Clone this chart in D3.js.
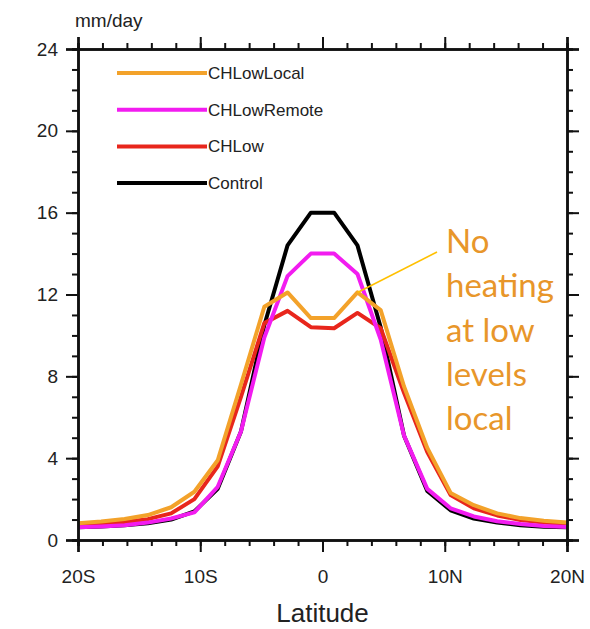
<!DOCTYPE html>
<html>
<head>
<meta charset="utf-8">
<script src="https://cdn.jsdelivr.net/npm/d3@7"></script>
<style>
  body { margin: 0; background: #fff; }
  text { font-family: "Liberation Sans", Arial, Helvetica, sans-serif; }
</style>
</head>
<body>
<div id="chart-area"></div>
<script>
// latitude grid (deg), south negative
const lats = [-20, -18.1, -16.19, -14.29, -12.38, -10.48, -8.57, -6.67, -4.76, -2.86, -0.95,
              0.95, 2.86, 4.76, 6.67, 8.57, 10.48, 12.38, 14.29, 16.19, 18.1, 20]

// precipitation, mm/day
const control      = [0.62, 0.66, 0.72, 0.82, 1.0, 1.4, 2.5, 5.3, 10.5, 14.4, 16.0,
                      16.0, 14.4, 10.4, 5.1, 2.4, 1.45, 1.05, 0.85, 0.72, 0.65, 0.62]
const chLow        = [0.72, 0.78, 0.88, 1.02, 1.3, 2.0, 3.6, 7.0, 10.6, 11.2, 10.4,
                      10.35, 11.1, 10.35, 7.2, 4.3, 2.2, 1.55, 1.2, 0.98, 0.85, 0.78]
const chLowRemote  = [0.62, 0.66, 0.72, 0.85, 1.05, 1.35, 2.6, 5.3, 9.9, 12.9, 14.0,
                      14.0, 13.0, 9.8, 5.1, 2.5, 1.55, 1.15, 0.92, 0.78, 0.68, 0.64]
const chLowLocal   = [0.82, 0.9, 1.03, 1.22, 1.6, 2.36, 3.9, 7.6, 11.4, 12.1, 10.85,
                      10.85, 12.1, 11.24, 7.5, 4.5, 2.3, 1.7, 1.3, 1.07, 0.94, 0.86]

const yTicks = [0, 4, 8, 12, 16, 20, 24]
const xTicks = [-20, -10, 0, 10, 20]
const xTickLabels = ["20S", "10S", "0", "10N", "20N"]
const legendNames = ["CHLowLocal", "CHLowRemote", "CHLow", "Control"]
const annotationLines = ["No", "heating", "at low", "levels", "local"]

function drawChart() {
    const svgWidth = 590
    const svgHeight = 629
    const margin = { left: 78, right: 23, top: 49, bottom: 89 }
    const chartWidth = svgWidth - margin.left - margin.right
    const chartHeight = svgHeight - margin.top - margin.bottom

    const series = [
        { name: "Control", values: control, color: "#000000" },
        { name: "CHLow", values: chLow, color: "#E8261C" },
        { name: "CHLowRemote", values: chLowRemote, color: "#F21CF0" },
        { name: "CHLowLocal", values: chLowLocal, color: "#F3A22A" }
    ]
    const colorOf = name => series.find(s => s.name == name).color

    const xScale = d3.scaleLinear()
        .domain([-20, 20])
        .range([0, chartWidth])

    const yScale = d3.scaleLinear()
        .domain([0, 24])
        .range([chartHeight, 0])

    const svg = d3.select("#chart-area")
        .append("svg")
        .attr("width", svgWidth)
        .attr("height", svgHeight)

    const chart = svg.append("g")
        .attr("transform", `translate(${margin.left},${margin.top})`)

    const lineGenerator = d3.line()
        .x((d, i) => xScale(lats[i]))
        .y(d => yScale(d))

    chart.selectAll(".series")
        .data(series)
        .join("path")
        .attr("class", "series")
        .attr("d", d => lineGenerator(d.values))
        .attr("fill", "none")
        .attr("stroke", d => d.color)
        .attr("stroke-width", 4)
        .attr("stroke-linejoin", "round")

    // axes: minor ticks first, then major ticks with labels
    const styleAxis = g => {
        g.select(".domain").attr("stroke-width", 2.5).attr("stroke", "#111")
        g.selectAll(".tick line").attr("stroke-width", 2).attr("stroke", "#111")
        g.selectAll("text").attr("fill", "#222").style("font-size", "19px")
    }
    const minorY = d3.range(0, 25, 1)
    const minorX = d3.range(-20, 21, 2)

    chart.append("g")
        .call(d3.axisLeft(yScale).tickValues(minorY).tickSize(6).tickFormat(""))
        .call(styleAxis)
    chart.append("g")
        .call(d3.axisLeft(yScale).tickValues(yTicks).tickSize(12).tickPadding(8))
        .call(styleAxis)

    chart.append("g")
        .attr("transform", `translate(${chartWidth},0)`)
        .call(d3.axisRight(yScale).tickValues(minorY).tickSize(6).tickFormat(""))
        .call(styleAxis)
    chart.append("g")
        .attr("transform", `translate(${chartWidth},0)`)
        .call(d3.axisRight(yScale).tickValues(yTicks).tickSize(12).tickFormat(""))
        .call(styleAxis)

    chart.append("g")
        .attr("transform", `translate(0,${chartHeight})`)
        .call(d3.axisBottom(xScale).tickValues(minorX).tickSize(6).tickFormat(""))
        .call(styleAxis)
    chart.append("g")
        .attr("transform", `translate(0,${chartHeight})`)
        .call(d3.axisBottom(xScale).tickValues(xTicks).tickSize(12).tickPadding(18)
            .tickFormat((d, i) => xTickLabels[i]))
        .call(styleAxis)

    chart.append("g")
        .call(d3.axisTop(xScale).tickValues(minorX).tickSize(6).tickFormat(""))
        .call(styleAxis)
    chart.append("g")
        .call(d3.axisTop(xScale).tickValues(xTicks).tickSize(12).tickFormat(""))
        .call(styleAxis)

    // axis titles
    svg.append("text")
        .attr("x", margin.left - 3)
        .attr("y", 27)
        .attr("fill", "#222")
        .style("font-size", "19px")
        .text("mm/day")

    svg.append("text")
        .attr("x", margin.left + chartWidth / 2)
        .attr("y", 622)
        .attr("text-anchor", "middle")
        .attr("fill", "#222")
        .style("font-size", "26px")
        .text("Latitude")

    // legend
    const legend = chart.append("g")
        .attr("transform", "translate(39,24)")
    const item = legend.selectAll("g")
        .data(legendNames)
        .join("g")
        .attr("transform", (d, i) => `translate(0,${i * 36.7})`)
    item.append("line")
        .attr("x1", 0)
        .attr("x2", 90)
        .attr("stroke", d => colorOf(d))
        .attr("stroke-width", 4)
    item.append("text")
        .attr("x", 91)
        .attr("dy", "0.35em")
        .attr("fill", "#222")
        .style("font-size", "17px")
        .text(d => d)

    // annotation
    const noteColor = "#E8962A"
    chart.append("line")
        .attr("x1", 359)
        .attr("y1", 203)
        .attr("x2", xScale(lats[12]))
        .attr("y2", yScale(chLowLocal[12]))
        .attr("stroke", "#FFC000")
        .attr("stroke-width", 1.6)

    svg.append("g")
        .selectAll("text")
        .data(annotationLines)
        .join("text")
        .attr("x", 446)
        .attr("y", (d, i) => 253 + i * 44.3)
        .attr("fill", noteColor)
        .style("font-family", "Lato, 'Open Sans', sans-serif")
        .style("font-size", "33px")
        .text(d => d)
}

drawChart()
</script>
</body>
</html>
